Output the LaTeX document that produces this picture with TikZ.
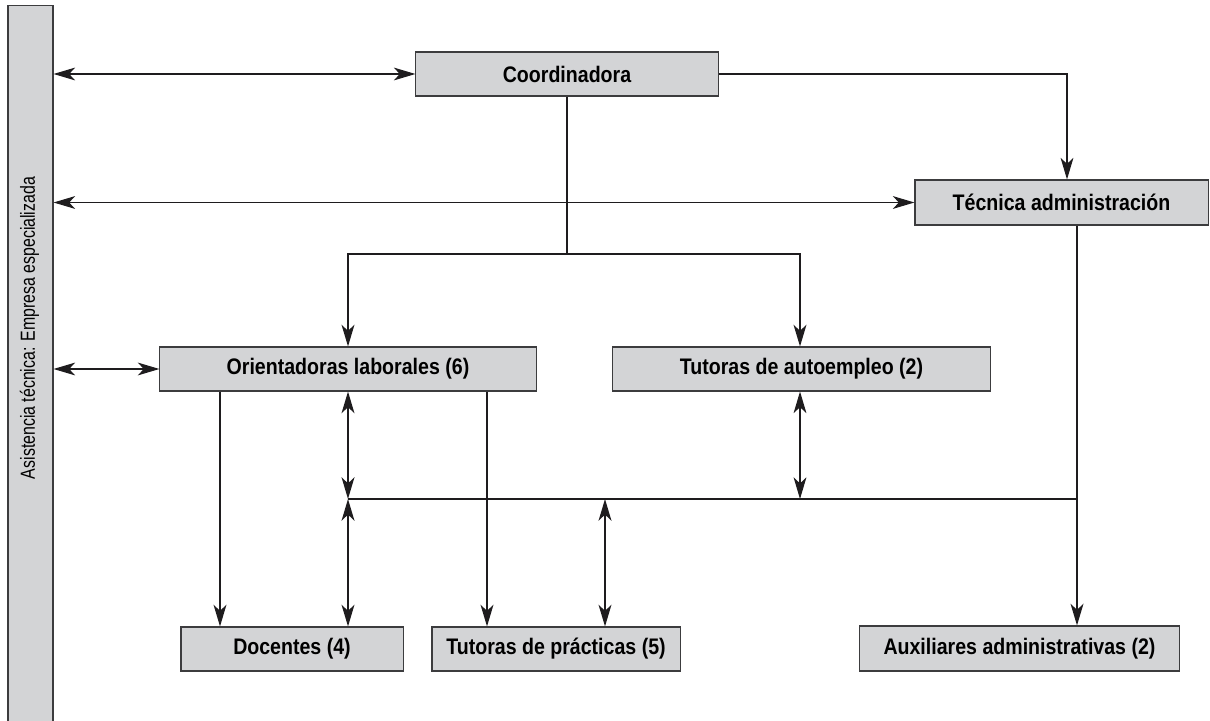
\documentclass[tikz,border=0pt]{standalone}
\usepackage{fontspec}
\setmainfont{Liberation Sans}
\usepackage{graphicx}
\usepackage{tikz}
\usetikzlibrary{
    arrows.meta,
    calc
}

\definecolor{boxgray}{RGB}{211,212,214}
\definecolor{boxline}{RGB}{60,60,62}
\definecolor{lncolor}{RGB}{30,28,30}

% narrow (condensed looking) text
\newcommand{\condtxt}[2][0.87]{\scalebox{#1}[1]{#2}}

\tikzset{
    orgbox/.style={draw=boxline, fill=boxgray, line width=0.75pt, inner sep=0pt,
        minimum height=1.1cm, font=\fontsize{16}{18}\selectfont\bfseries},
    thinln/.style={draw=lncolor, line width=0.8pt},
    thickln/.style={draw=lncolor, line width=1.6pt}
}

\begin{document}
\begin{tikzpicture}[x=0.025cm, y=-0.025cm,
    >={Stealth[length=5.4mm, width=3.2mm, inset=1.5mm]}]

\useasboundingbox (0,0) rectangle (1210,721);

% Asistencia tecnica bar
\node[orgbox, minimum width=1.125cm, minimum height=17.95cm] (asist) at (30.5,365) {};
\node[rotate=90, font=\fontsize{14.5}{16}\selectfont] (asistlbl) at (29.5,328)
    {\condtxt[0.78]{Asistencia técnica: Empresa especializada}};

% Boxes
\node[orgbox, minimum width=7.55cm] (coord) at (567,74) {\condtxt{Coordinadora}};
\node[orgbox, minimum width=7.325cm, minimum height=1.125cm] (tecnica) at (1061.5,202.5) {\condtxt{Técnica administración}};
\node[orgbox, minimum width=9.4cm] (orient) at (348,369) {\condtxt{Orientadoras laborales (6)}};
\node[orgbox, minimum width=9.425cm] (auto) at (801.5,369) {\condtxt{Tutoras de autoempleo (2)}};
\node[orgbox, minimum width=5.55cm] (docentes) at (292,649) {\condtxt{Docentes (4)}};
\node[orgbox, minimum width=6.2cm] (practicas) at (556,649) {\condtxt{Tutoras de prácticas (5)}};
\node[orgbox, minimum width=7.975cm, minimum height=1.125cm] (aux) at (1019.5,648.5) {\condtxt{Auxiliares administrativas (2)}};

% Helper coordinates
\coordinate (split) at (567,254);
\coordinate (bus) at (348,499);
\coordinate (vdoc) at (220,0);
\coordinate (vprac) at (487,0);
\coordinate (vmid) at (605,0);
\coordinate (vadm) at (1077,0);
\coordinate (vtec) at (1067,0);

% Links to the bar
\draw[thinln, <->] (asist.east |- coord.west) -- (coord.west);
\draw[thinln, <->] (asist.east |- tecnica.west) -- (tecnica.west);
\draw[thinln, <->] (asist.east |- orient.west) -- (orient.west);

% Coordinadora
\draw[thinln, ->] (coord.east) -| (tecnica.north -| vtec);
\draw[thickln] (coord.south) -- (split);
\draw[thickln, ->] (split) -| (orient.north);
\draw[thickln, ->] (split) -| (auto.north -| 800,0);

% Tecnica administracion
\draw[thickln, ->] (tecnica.south -| vadm) -- (aux.north -| vadm);

% Horizontal bus
\draw[thinln] (bus) -- (bus -| vadm);
\draw[thickln, <->] (orient.south) -- (bus);
\draw[thickln, <->] (bus) -- (docentes.north -| bus);
\draw[thinln, <->] (auto.south -| 800,0) -- (bus -| 800,0);
\draw[thickln, <->] (bus -| vmid) -- (practicas.north -| vmid);

% Orientadoras down
\draw[thickln, ->] (orient.south -| vdoc) -- (docentes.north -| vdoc);
\draw[thickln, ->] (orient.south -| vprac) -- (practicas.north -| vprac);

\end{tikzpicture}
\end{document}
